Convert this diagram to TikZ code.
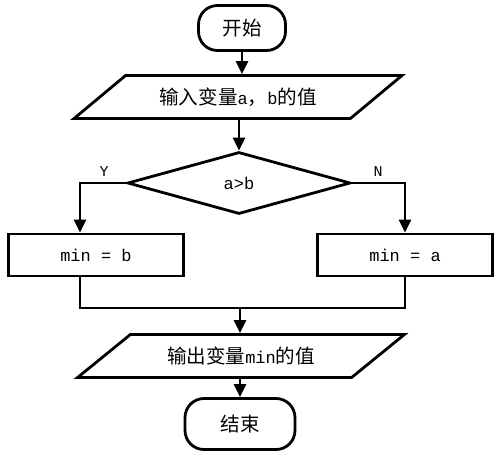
\documentclass[tikz,border=0pt]{standalone}
\usepackage{fontspec}
\setmainfont{Liberation Mono}
\newfontfamily\cjk[Scale=1.15]{Noto Sans CJK SC}
\usetikzlibrary{shapes.geometric,arrows.meta}

\begin{document}
\begin{tikzpicture}[x=1pt, y=-1pt, line width=2.8pt,
    font=\fontsize{17}{20}\selectfont,
    term/.style={draw, rectangle, rounded corners=19pt},
    io/.style={draw, trapezium, trapezium left angle=34, trapezium right angle=146,
        trapezium stretches=true, minimum width=328pt, minimum height=43pt},
    proc/.style={draw, rectangle, minimum width=175pt, minimum height=42pt},
    test/.style={draw, diamond, aspect=3.6, inner sep=0pt, minimum width=223pt, minimum height=62pt},
    arr/.style={-{Triangle[width=12pt,length=13pt]}},
    branch/.style={font=\fontsize{15}{17}\selectfont}]
    \useasboundingbox (0,0) rectangle (500,456);

    % Define nodes for the flow
    \node[term, minimum width=87pt, minimum height=45pt] (start) at (242,28) {\cjk 开始};
    \node[io] (in) at (238,97) {{\cjk 输入变量}a{\cjk ，}b{\cjk 的值}};
    \node[test] (dec) at (239,183) {a>b};

    \node[proc] (lbox) at (96,255) {min = b};
    \node[proc] (rbox) at (405,255) {min = a};

    \node[io] (out) at (241,356) {{\cjk 输出变量}min{\cjk 的值}};
    \node[term, minimum width=110pt, minimum height=51pt] (end) at (240,424) {\cjk 结束};

    \coordinate (ycol) at (80,0);
    \coordinate (ncol) at (405,0);
    \coordinate (merge) at (240,308);

    % Draw edges
    \draw[arr] (start) -- (start |- in.north);
    \draw[arr] (dec |- in.south) -- (dec.north);
    \draw[arr] (dec.west) -| (ycol |- lbox.north);
    \draw[arr] (dec.east) -| (ncol |- rbox.north);
    \draw (ycol |- lbox.south) |- (ncol |- merge) -- (ncol |- rbox.south);
    \draw[arr] (merge) -- (merge |- out.north);
    \draw[arr] (end |- out.south) -- (end.north);

    \node[branch] (ylab) at (104,172) {Y};
    \node[branch] (nlab) at (378,172) {N};

\end{tikzpicture}
\end{document}
